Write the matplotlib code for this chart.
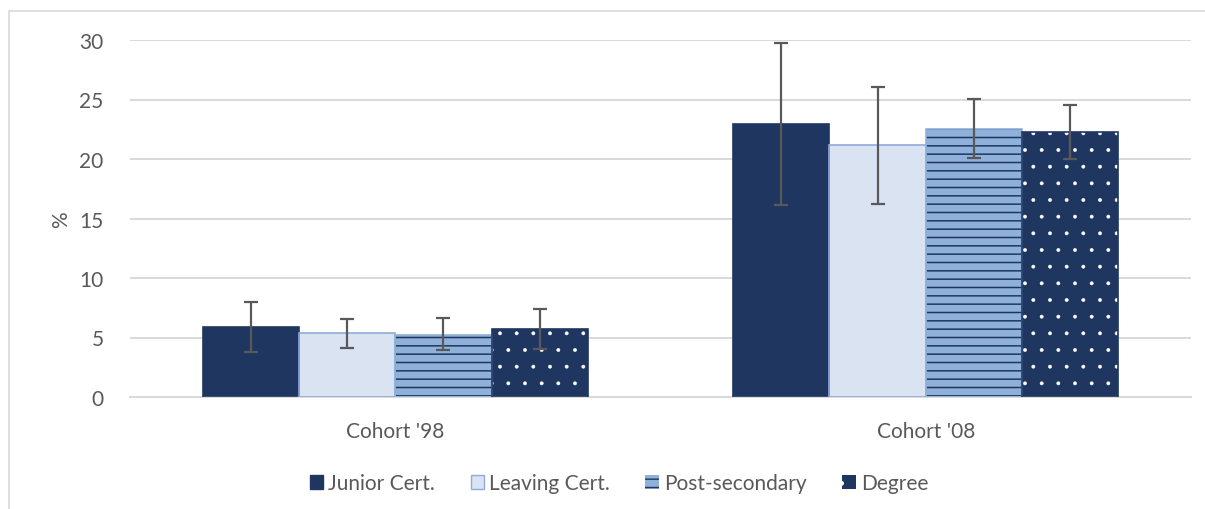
import matplotlib
matplotlib.use("Agg")
import matplotlib.pyplot as plt
import numpy as np
from matplotlib.patches import Rectangle, Patch

plt.rcParams['font.family'] = ['Lato', 'DejaVu Sans']
plt.rcParams['hatch.linewidth'] = 1.0

cohorts = ["Cohort '98", "Cohort '08"]
levels = ['Junior Cert.', 'Leaving Cert.', 'Post-secondary', 'Degree']
values = {
    'Junior Cert.': [5.9, 22.95],
    'Leaving Cert.': [5.35, 21.15],
    'Post-secondary': [5.2, 22.5],
    'Degree': [5.75, 22.25],
}
err_low = {
    'Junior Cert.': [3.8, 16.15],
    'Leaving Cert.': [4.1, 16.2],
    'Post-secondary': [3.95, 20.1],
    'Degree': [4.0, 20.0],
}
err_high = {
    'Junior Cert.': [8.0, 29.75],
    'Leaving Cert.': [6.55, 26.05],
    'Post-secondary': [6.6, 25.05],
    'Degree': [7.4, 24.5],
}

# fill, hatch colour, hatch, outline, hatch width
styles = {
    'Junior Cert.': ('#1F3760', '#1F3760', None, '#1F3760', 1.0),
    'Leaving Cert.': ('#DAE3F2', '#DAE3F2', None, '#8FAADC', 1.0),
    'Post-secondary': ('#8FB0D9', '#1F3760', '--', '#8FB0D9', 1.1),
    'Degree': ('#1F3760', 'white', '.', '#1F3760', 0.3),
}

fig = plt.figure(figsize=(12.05, 5.1), dpi=100)
ax = fig.add_axes([130 / 1205, 1 - 398 / 510, (1191 - 130) / 1205, (398 - 41) / 510])

x = np.arange(len(cohorts))
w = 0.1815
for i, lev in enumerate(levels):
    fc, hc, hatch, ec, hw = styles[lev]
    pos = x + (i - 1.5) * w
    vals = np.array(values[lev])
    with plt.rc_context({'hatch.linewidth': hw}):
        ax.bar(pos, vals, w, color=fc, edgecolor=hc, hatch=hatch, linewidth=0, zorder=2)
    ax.bar(pos, vals, w, fill=False, edgecolor=ec, linewidth=1.2, zorder=3)
    lo = vals - np.array(err_low[lev])
    hi = np.array(err_high[lev]) - vals
    ax.errorbar(pos, vals, yerr=[lo, hi], fmt='none', ecolor='#595959',
                elinewidth=1.6, capsize=5, capthick=1.6, zorder=4)

ax.set_xlim(-0.5, 1.5)
ax.set_ylim(0, 30)
ax.set_yticks(range(0, 31, 5))
ax.set_xticks(x)
ax.set_xticklabels(cohorts)
ax.yaxis.grid(True, color='#D9D9D9', linewidth=1.4, zorder=0)
ax.set_axisbelow(True)
for s in ['top', 'right', 'left']:
    ax.spines[s].set_visible(False)
ax.spines['bottom'].set_color('#D9D9D9')
ax.spines['bottom'].set_linewidth(1.4)
ax.tick_params(axis='both', length=0, labelsize=15, colors='#595959')
ax.tick_params(axis='y', pad=19)
ax.tick_params(axis='x', pad=17)
ax.set_ylabel('%', fontsize=15, color='#595959', labelpad=6)

handles = []
for lev in levels:
    fc, hc, hatch, ec, hw = styles[lev]
    handles.append(Patch(facecolor=fc, edgecolor=ec if hatch is None else hc,
                         hatch=hatch, linewidth=1.0 if hatch is None else 0))
leg = fig.legend(handles, levels, loc='center', bbox_to_anchor=(619 / 1205, 1 - 484 / 510),
                 ncol=4, frameon=False, fontsize=15, handlelength=0.65, handleheight=0.65,
                 handletextpad=0.25, columnspacing=1.7)
for t in leg.get_texts():
    t.set_color('#595959')

fig.add_artist(Rectangle((9 / 1205, -0.1), 1.2, 1 - 12 / 510 + 0.1, transform=fig.transFigure,
                         fill=False, edgecolor='#D9D9D9', linewidth=1.2))

fig.savefig('out.png', dpi=100)
